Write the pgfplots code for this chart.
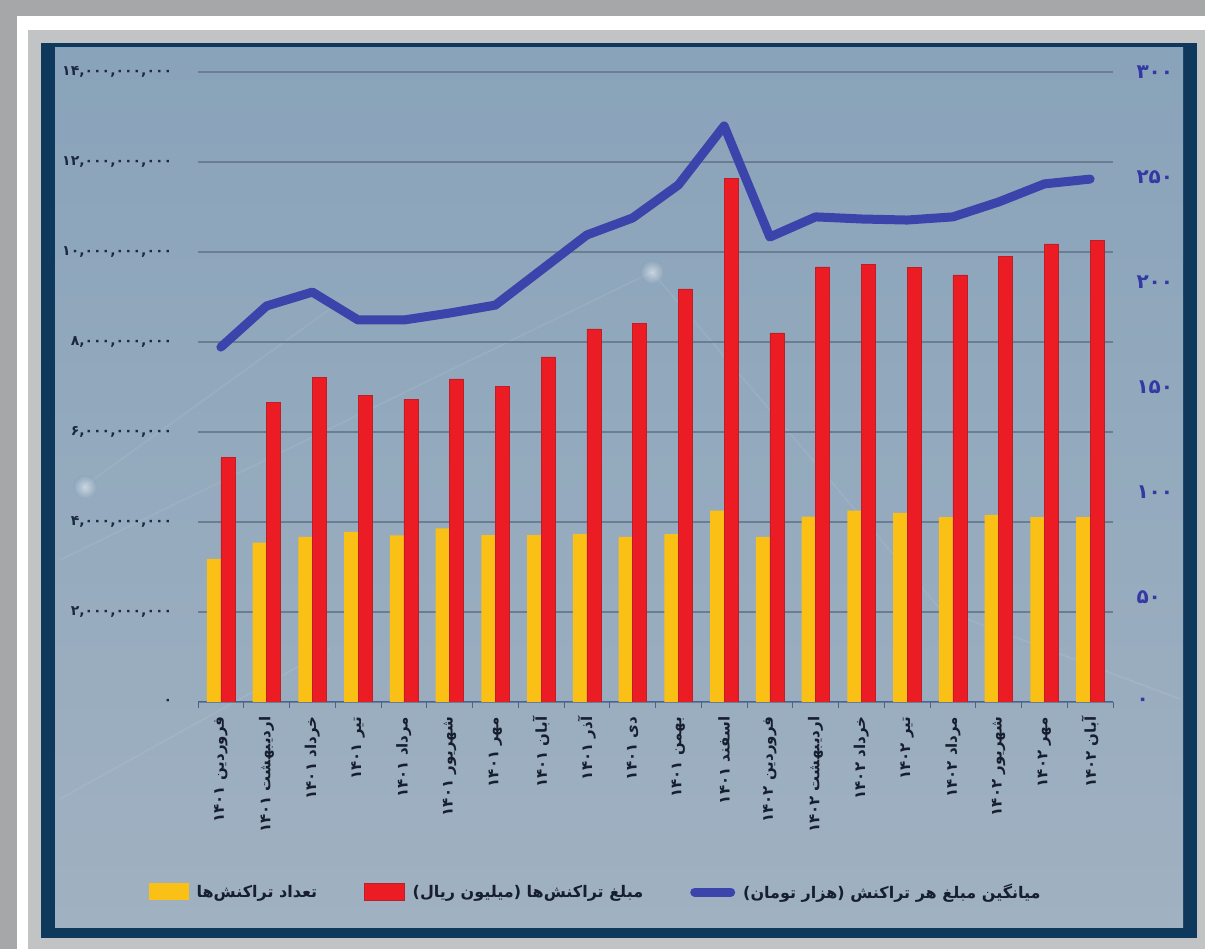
\documentclass[border=0pt]{standalone}
\usepackage{pgfplots}
\usepackage{pgfplotstable}
\pgfplotsset{compat=1.18}
\usepackage{fontspec}
\TeXXeTstate=1
\newfontfamily\fa[Script=Arabic]{DejaVu Sans}
\definecolor{outergray}{RGB}{166,167,169}
\definecolor{lightgraytwo}{RGB}{194,195,197}
\definecolor{navy}{RGB}{14,57,93}
\definecolor{paneltop}{RGB}{137,163,186}
\definecolor{panelbot}{RGB}{160,177,193}
\definecolor{gridc}{RGB}{106,125,147}
\definecolor{barY}{RGB}{250,192,22}
\definecolor{barR}{RGB}{236,28,36}
\definecolor{barRd}{RGB}{190,30,40}
\definecolor{lineB}{RGB}{58,68,170}
\definecolor{tickL}{RGB}{28,40,66}
\definecolor{tickR}{RGB}{52,56,163}
\definecolor{labc}{RGB}{22,30,48}
\definecolor{axc}{RGB}{70,100,150}
\newcommand{\lab}[2]{\beginR #1 \beginL #2\endL\endR}

\pgfplotstableread{
x count amount avg
0 3180000000 5430000000 169.0
1 3540000000 6650000000 188.6
2 3670000000 7210000000 195.2
3 3780000000 6820000000 181.9
4 3700000000 6730000000 181.9
5 3860000000 7180000000 185.2
6 3710000000 7020000000 189.0
7 3710000000 7670000000 205.7
8 3730000000 8290000000 222.4
9 3670000000 8420000000 230.5
10 3730000000 9180000000 246.2
11 4250000000 11640000000 274.3
12 3670000000 8200000000 221.4
13 4120000000 9670000000 231.0
14 4250000000 9730000000 230.0
15 4200000000 9650000000 229.5
16 4110000000 9490000000 231.0
17 4160000000 9910000000 238.1
18 4110000000 10180000000 246.7
19 4110000000 10250000000 249.0
}\datatable

\begin{document}
\begin{tikzpicture}[x=1pt,y=1pt]
% frame and panel
\fill[outergray] (0,0) rectangle (1205,949);
\fill[white] (17,0) rectangle (1205,933);
\fill[lightgraytwo] (28,0) rectangle (1205,919);
\fill[navy] (41,11) rectangle (1197,906);
\shade[top color=paneltop, bottom color=panelbot] (55,21) rectangle (1183,901);
% faint decorative lines
\begin{scope}[white, opacity=0.08, line width=1.6pt]
\draw (60,389) -- (652,677);
\draw (652,677) -- (940,340);
\draw (83,462) -- (330,640);
\draw (940,340) -- (1180,250);
\draw (60,150) -- (330,300);
\end{scope}
\begin{scope}[opacity=0.25]
\shade[inner color=white, outer color=paneltop, opacity=0.5] (85,462) circle (12);
\shade[inner color=white, outer color=paneltop, opacity=0.5] (652,677) circle (12);
\end{scope}

\begin{axis}[
  at={(198pt,247pt)}, anchor=south west,
  width=915pt, height=630pt, scale only axis,
  xmin=-0.5, xmax=19.5, ymin=0, ymax=14000000000,
  axis x line*=bottom, axis y line*=left,
  x axis line style={draw=axc, line width=1pt, -},
  y axis line style={draw=none},
  xtick={0,1,...,19},
  xticklabels={
    {\lab{فروردین}{۱۴۰۱}},{\lab{اردیبهشت}{۱۴۰۱}},{\lab{خرداد}{۱۴۰۱}},{\lab{تیر}{۱۴۰۱}},
    {\lab{مرداد}{۱۴۰۱}},{\lab{شهریور}{۱۴۰۱}},{\lab{مهر}{۱۴۰۱}},{\lab{آبان}{۱۴۰۱}},
    {\lab{آذر}{۱۴۰۱}},{\lab{دی}{۱۴۰۱}},{\lab{بهمن}{۱۴۰۱}},{\lab{اسفند}{۱۴۰۱}},
    {\lab{فروردین}{۱۴۰۲}},{\lab{اردیبهشت}{۱۴۰۲}},{\lab{خرداد}{۱۴۰۲}},{\lab{تیر}{۱۴۰۲}},
    {\lab{مرداد}{۱۴۰۲}},{\lab{شهریور}{۱۴۰۲}},{\lab{مهر}{۱۴۰۲}},{\lab{آبان}{۱۴۰۲}}},
  major x tick style={draw=none},
  minor xtick={-0.5,0.5,1.5,2.5,3.5,4.5,5.5,6.5,7.5,8.5,9.5,10.5,11.5,12.5,13.5,14.5,15.5,16.5,17.5,18.5,19.5},
  minor x tick style={draw=axc, line width=1pt},
  minor tick length=6pt,
  tick align=outside,
  ytick={0,2000000000,4000000000,6000000000,8000000000,10000000000,12000000000,14000000000},
  yticklabels={{۰},{۲,۰۰۰,۰۰۰,۰۰۰},{۴,۰۰۰,۰۰۰,۰۰۰},{۶,۰۰۰,۰۰۰,۰۰۰},{۸,۰۰۰,۰۰۰,۰۰۰},{۱۰,۰۰۰,۰۰۰,۰۰۰},{۱۲,۰۰۰,۰۰۰,۰۰۰},{۱۴,۰۰۰,۰۰۰,۰۰۰}},
  scaled y ticks=false,
  ytick style={draw=none},
  ymajorgrids, grid style={draw=gridc, line width=1.3pt},
  yticklabel style={font=\fa\bfseries\fontsize{14}{16}\selectfont, text=tickL, xshift=-18pt},
  xticklabel style={yshift=-7pt, rotate=90, anchor=east, font=\fa\bfseries\fontsize{15}{17}\selectfont, text=labc},
  ybar=0pt, bar width=14pt,
  legend columns=3,
  legend style={at={(0.4345,-0.3016)}, anchor=center, draw=none, fill=none,
    font=\fa\bfseries\fontsize{16}{18}\selectfont, text=labc,
    /tikz/every odd column/.append style={column sep=6pt},
    /tikz/every even column/.append style={column sep=45pt}},
]
\addplot[fill=barY, draw=none,
  legend image code/.code={\fill[barY] (0pt,-8pt) rectangle (40pt,9pt);}]
  table[x=x,y=count]{\datatable};
\addlegendentry{\beginR تعداد تراکنش‌ها\endR}
\addplot[fill=barR, draw=barRd, line width=0.6pt,
  legend image code/.code={\draw[fill=barR, draw=barRd, line width=0.6pt] (0pt,-8pt) rectangle (40pt,9pt);}]
  table[x=x,y=amount]{\datatable};
\addlegendentry{)\beginR میلیون ریال\endR( \beginR مبلغ تراکنش‌ها\endR}
\addlegendimage{legend image code/.code={\draw[lineB, line width=9pt, line cap=round] (4pt,0pt) -- (40pt,0pt);}}
\addlegendentry{)\beginR هزار تومان\endR( \beginR میانگین مبلغ هر تراکنش\endR}
\end{axis}

\begin{axis}[
  at={(198pt,247pt)}, anchor=south west,
  width=915pt, height=630pt, scale only axis,
  xmin=-0.5, xmax=19.5, ymin=0, ymax=300,
  axis y line*=right, axis x line=none,
  y axis line style={draw=none}, ytick style={draw=none},
  ytick={0,50,100,150,200,250,300},
  yticklabels={{۰},{۵۰},{۱۰۰},{۱۵۰},{۲۰۰},{۲۵۰},{۳۰۰}},
  yticklabel style={font=\fa\bfseries\fontsize{20}{22}\selectfont, text=tickR, anchor=west, xshift=20pt},
]
\addplot[lineB, line width=9pt, line join=round, line cap=round, mark=none]
  table[x=x,y=avg]{\datatable};
\end{axis}
\pgfresetboundingbox
\useasboundingbox (0,0) rectangle (1205,949);
\end{tikzpicture}
\end{document}
